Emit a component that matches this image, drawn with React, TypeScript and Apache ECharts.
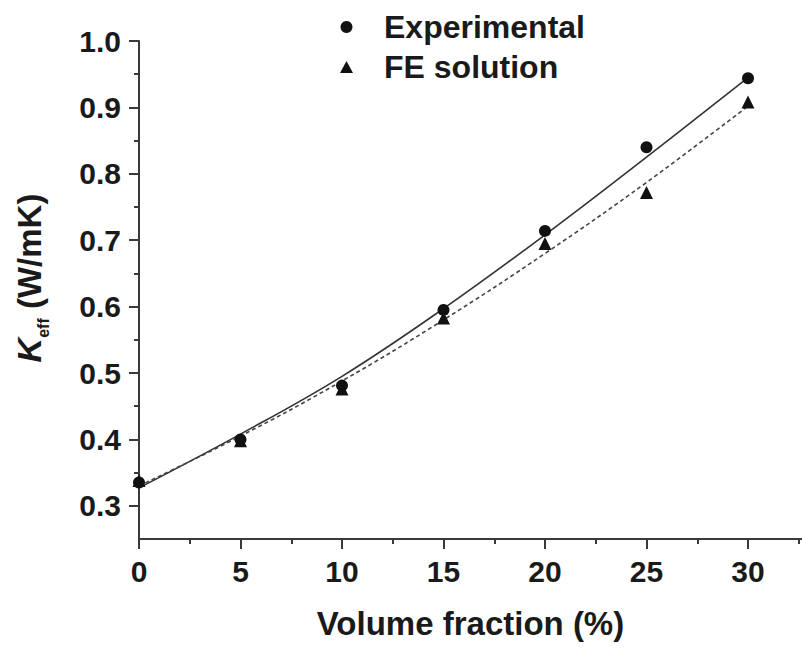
import React, { useEffect, useRef } from "react";
import * as echarts from "echarts";

const xMajorTicks = [0, 5, 10, 15, 20, 25, 30];
const xMinorTicks = [2.5, 7.5, 12.5, 17.5, 22.5, 27.5, 32.5];
const yMajorTicks = [0.3, 0.4, 0.5, 0.6, 0.7, 0.8, 0.9, 1.0];
const yMinorTicks = [0.35, 0.45, 0.55, 0.65, 0.75, 0.85, 0.95];

const volumeFraction = [0, 5, 10, 15, 20, 25, 30];
const experimental = [0.335, 0.4, 0.481, 0.595, 0.714, 0.84, 0.944];
const feSolution = [0.338, 0.398, 0.476, 0.583, 0.695, 0.772, 0.908];

const fitX = [0, 5, 10, 15, 20, 25, 30];
const fitExperimental = [0.327, 0.408, 0.495, 0.597, 0.708, 0.825, 0.945];
const fitFE = [0.33, 0.405, 0.488, 0.58, 0.68, 0.787, 0.902];

const FONT = "'Liberation Sans', Arial, sans-serif";
const TXT = "#1a1a1a";
const AX = "#3a3a3a";

export default function App() {
  const ref = useRef<HTMLDivElement>(null);
  useEffect(() => {
    if (!ref.current) return;
    const chart = echarts.init(ref.current, undefined, { renderer: "svg" });
    const pair = (xs: number[], ys: number[]) => xs.map((x, i) => [x, ys[i]]);
    chart.setOption({
      animation: false,
      backgroundColor: "#ffffff",
      textStyle: { fontFamily: FONT },
      grid: { left: 139, right: 0, top: 41, bottom: 114 },
      legend: {
        orient: "vertical",
        left: 335,
        top: 6,
        itemGap: 8,
        itemWidth: 13,
        itemHeight: 12,
        textStyle: { fontFamily: FONT, fontSize: 32, fontWeight: "bold", color: TXT, padding: [0, 0, 0, 26] },
        data: [
          { name: "Experimental", icon: "circle" },
          { name: "FE solution", icon: "triangle" },
        ],
      },
      xAxis: [
        {
          type: "value",
          position: "bottom",
          min: 0,
          max: 32.66,
          name: "Volume fraction (%)",
          nameLocation: "middle",
          nameGap: 68,
          nameTextStyle: { fontFamily: FONT, fontSize: 33, fontWeight: "bold", color: TXT },
          axisLine: { lineStyle: { color: AX, width: 2 } },
          axisTick: { show: true, length: 10, inside: false, customValues: xMajorTicks, lineStyle: { color: AX, width: 2 } },
          axisLabel: {
            customValues: xMajorTicks,
            margin: 17,
            fontFamily: FONT,
            fontSize: 30,
            fontWeight: "bold",
            color: TXT,
            formatter: (v: number) => String(v),
          },
          splitLine: { show: false },
        },
        {
          type: "value",
          position: "bottom",
          min: 0,
          max: 32.66,
          axisLine: { show: false },
          axisTick: { show: true, length: 5, customValues: xMinorTicks, lineStyle: { color: AX, width: 2 } },
          axisLabel: { show: false },
          splitLine: { show: false },
        },
      ],
      yAxis: [
        {
          type: "value",
          position: "left",
          min: 0.25,
          max: 1.0,
          name: "{k|K}{sub|eff}{n| (W/mK)}",
          nameLocation: "middle",
          nameGap: 92,
          nameTextStyle: {
            padding: [0, 0, 0, 24],
            rich: {
              k: { fontFamily: FONT, fontSize: 34, fontWeight: "bold", fontStyle: "italic", color: TXT, lineHeight: 36 },
              sub: { fontFamily: FONT, fontSize: 16, fontWeight: "bold", color: TXT, verticalAlign: "bottom", lineHeight: 36, padding: [0, 0, -4, 0] },
              n: { fontFamily: FONT, fontSize: 33, fontWeight: "bold", color: TXT, lineHeight: 36 },
            },
          },
          axisLine: { lineStyle: { color: AX, width: 2 } },
          axisTick: { show: true, length: 10, customValues: yMajorTicks, lineStyle: { color: AX, width: 2 } },
          axisLabel: {
            customValues: yMajorTicks,
            margin: 18,
            fontFamily: FONT,
            fontSize: 30,
            fontWeight: "bold",
            color: TXT,
            formatter: (v: number) => v.toFixed(1),
          },
          splitLine: { show: false },
        },
        {
          type: "value",
          position: "left",
          min: 0.25,
          max: 1.0,
          axisLine: { show: false },
          axisTick: { show: true, length: 5, customValues: yMinorTicks, lineStyle: { color: AX, width: 2 } },
          axisLabel: { show: false },
          splitLine: { show: false },
        },
      ],
      series: [
        {
          name: "fitExp",
          type: "line",
          data: pair(fitX, fitExperimental),
          smooth: 0.4,
          showSymbol: false,
          symbol: "none",
          lineStyle: { color: "#333333", width: 1.6, type: "solid" },
          silent: true,
          z: 2,
        },
        {
          name: "fitFE",
          type: "line",
          data: pair(fitX, fitFE),
          smooth: 0.4,
          showSymbol: false,
          symbol: "none",
          lineStyle: { color: "#444444", width: 1.6, type: [4, 3] },
          silent: true,
          z: 2,
        },
        {
          name: "Experimental",
          type: "scatter",
          symbol: "circle",
          symbolSize: 12,
          itemStyle: { color: "#111111", opacity: 1 },
          data: pair(volumeFraction, experimental),
          z: 3,
        },
        {
          name: "FE solution",
          type: "scatter",
          symbol: "triangle",
          symbolSize: 13,
          itemStyle: { color: "#111111", opacity: 1 },
          data: pair(volumeFraction, feSolution),
          z: 4,
        },
      ],
    });
    return () => chart.dispose();
  }, []);
  return <div ref={ref} style={{ width: 802, height: 653, position: "absolute", left: 0, top: 0 }} />;
}
